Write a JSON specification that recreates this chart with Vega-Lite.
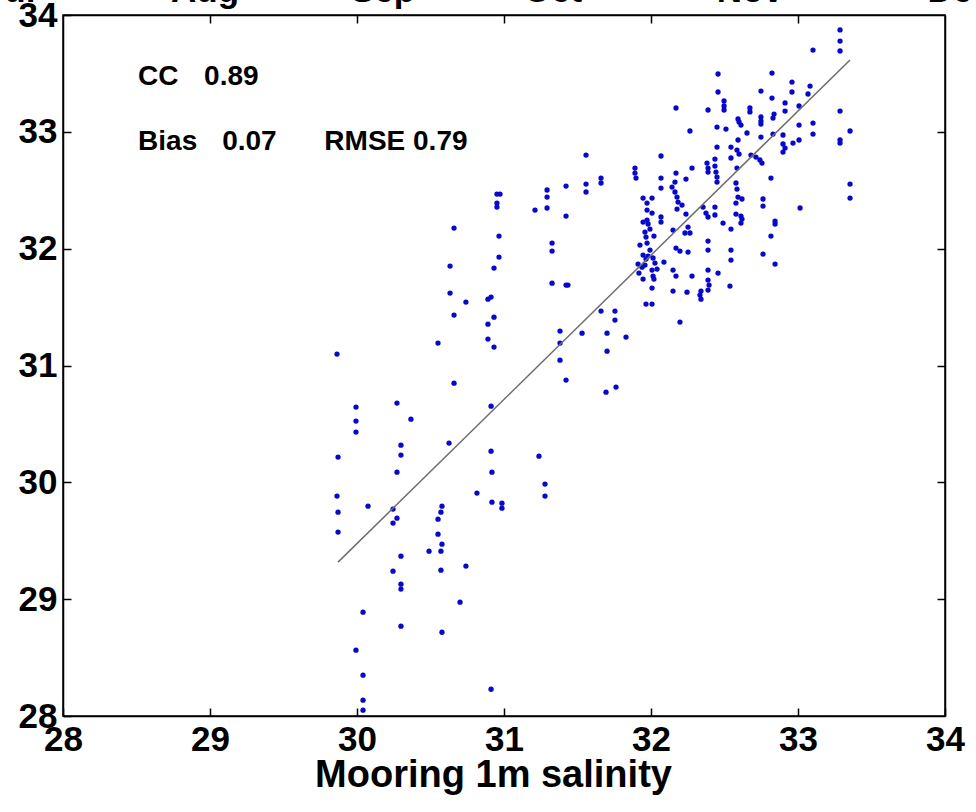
{
"$schema": "https://vega.github.io/schema/vega-lite/v6.json",
"width": 882, "height": 701,
"autosize": {"type": "none"},
"padding": {"left": 63, "top": 15, "right": 31, "bottom": 96},
"background": "white",
"config": {"view": {"stroke": "black", "strokeWidth": 1.5},
  "axis": {"grid": false, "domainColor": "black", "domainWidth": 1.5, "tickColor": "black", "tickWidth": 1.5, "labelColor": "black", "labelFont": "Liberation Sans", "labelFontWeight": "bold", "labelFontSize": 35, "titleColor": "black"}},
"datasets": {
"pts": [
{"obs":29.864,"mod":31.098},{"obs":30.551,"mod":31.192},{"obs":30.891,"mod":31.226},{"obs":30.932,"mod":31.158},{"obs":30.660,"mod":30.849},
{"obs":29.993,"mod":30.644},{"obs":30.272,"mod":30.678},{"obs":29.993,"mod":30.524},{"obs":29.993,"mod":30.430},{"obs":30.367,"mod":30.541},
{"obs":29.871,"mod":30.216},{"obs":30.299,"mod":30.318},{"obs":30.299,"mod":30.233},{"obs":30.272,"mod":30.087},{"obs":30.626,"mod":30.336},
{"obs":30.912,"mod":30.652},{"obs":30.912,"mod":30.267},{"obs":29.864,"mod":29.882},{"obs":29.871,"mod":29.745},{"obs":30.075,"mod":29.796},
{"obs":30.245,"mod":29.771},{"obs":30.272,"mod":29.693},{"obs":30.245,"mod":29.651},{"obs":29.871,"mod":29.574},{"obs":30.816,"mod":29.908},
{"obs":30.578,"mod":29.796},{"obs":30.571,"mod":29.745},{"obs":30.551,"mod":29.685},{"obs":30.551,"mod":29.556},{"obs":30.578,"mod":29.471},
{"obs":30.490,"mod":29.411},{"obs":30.571,"mod":29.411},{"obs":30.299,"mod":29.368},{"obs":30.245,"mod":29.240},{"obs":30.571,"mod":29.248},
{"obs":30.741,"mod":29.283},{"obs":30.299,"mod":29.128},{"obs":30.299,"mod":29.086},{"obs":30.701,"mod":28.974},{"obs":30.041,"mod":28.889},
{"obs":30.299,"mod":28.769},{"obs":30.578,"mod":28.717},{"obs":29.993,"mod":28.563},{"obs":30.041,"mod":28.349},{"obs":30.041,"mod":28.135},
{"obs":30.041,"mod":28.050},{"obs":30.912,"mod":28.229},{"obs":30.918,"mod":30.087},{"obs":31.238,"mod":30.224},{"obs":31.279,"mod":29.985},
{"obs":31.279,"mod":29.882},{"obs":30.918,"mod":29.830},{"obs":30.986,"mod":29.822},{"obs":30.986,"mod":29.779},{"obs":31.422,"mod":30.875},
{"obs":31.694,"mod":30.772},{"obs":31.762,"mod":30.815},{"obs":31.381,"mod":31.295},{"obs":31.381,"mod":31.192},{"obs":31.381,"mod":31.046},
{"obs":31.531,"mod":31.277},{"obs":31.701,"mod":31.277},{"obs":31.701,"mod":31.123},{"obs":31.830,"mod":31.243},{"obs":31.558,"mod":32.801},
{"obs":31.422,"mod":32.536},{"obs":31.558,"mod":32.553},{"obs":31.558,"mod":32.485},{"obs":31.660,"mod":32.604},{"obs":31.660,"mod":32.562},
{"obs":31.293,"mod":32.502},{"obs":31.293,"mod":32.442},{"obs":31.293,"mod":32.348},{"obs":31.211,"mod":32.330},{"obs":31.422,"mod":32.279},
{"obs":30.952,"mod":32.467},{"obs":30.973,"mod":32.467},{"obs":30.952,"mod":32.390},{"obs":30.952,"mod":32.356},{"obs":30.660,"mod":32.176},
{"obs":30.966,"mod":32.108},{"obs":30.966,"mod":31.928},{"obs":30.932,"mod":31.834},{"obs":30.633,"mod":31.851},{"obs":31.327,"mod":32.048},
{"obs":31.327,"mod":31.979},{"obs":31.327,"mod":31.705},{"obs":31.422,"mod":31.688},{"obs":31.435,"mod":31.688},{"obs":30.633,"mod":31.620},
{"obs":30.741,"mod":31.543},{"obs":30.891,"mod":31.568},{"obs":30.912,"mod":31.586},{"obs":30.660,"mod":31.432},{"obs":30.932,"mod":31.414},
{"obs":30.891,"mod":31.354},{"obs":31.660,"mod":31.466},{"obs":31.755,"mod":31.466},{"obs":31.755,"mod":31.389},
{"obs":33.286,"mod":33.872},{"obs":33.286,"mod":33.777},{"obs":33.286,"mod":33.692},{"obs":33.102,"mod":33.700},{"obs":32.456,"mod":33.495},
{"obs":32.823,"mod":33.503},{"obs":32.456,"mod":33.341},{"obs":32.748,"mod":33.349},{"obs":32.959,"mod":33.426},{"obs":32.959,"mod":33.341},
{"obs":33.082,"mod":33.392},{"obs":33.068,"mod":33.324},{"obs":32.823,"mod":33.289},{"obs":32.497,"mod":33.264},{"obs":32.497,"mod":33.221},
{"obs":32.497,"mod":33.187},{"obs":32.388,"mod":33.187},{"obs":32.170,"mod":33.204},{"obs":32.673,"mod":33.204},{"obs":32.673,"mod":33.170},
{"obs":32.912,"mod":33.247},{"obs":32.912,"mod":33.178},{"obs":33.007,"mod":33.221},{"obs":33.286,"mod":33.178},{"obs":32.265,"mod":33.007},
{"obs":32.449,"mod":33.041},{"obs":32.510,"mod":33.024},{"obs":32.592,"mod":33.110},{"obs":32.599,"mod":33.084},{"obs":32.612,"mod":33.058},
{"obs":32.748,"mod":33.127},{"obs":32.748,"mod":33.092},{"obs":32.748,"mod":33.067},{"obs":32.830,"mod":33.118},{"obs":32.837,"mod":33.152},
{"obs":32.748,"mod":32.955},{"obs":32.653,"mod":32.990},{"obs":32.830,"mod":32.981},{"obs":32.898,"mod":32.973},{"obs":32.898,"mod":32.896},
{"obs":32.912,"mod":32.861},{"obs":32.898,"mod":32.827},{"obs":32.966,"mod":32.904},{"obs":33.007,"mod":33.058},{"obs":33.007,"mod":32.930},
{"obs":33.102,"mod":33.075},{"obs":33.102,"mod":32.981},{"obs":33.286,"mod":32.930},{"obs":33.286,"mod":32.904},{"obs":33.354,"mod":33.007},
{"obs":32.068,"mod":32.793},{"obs":32.449,"mod":32.870},{"obs":32.544,"mod":32.870},{"obs":32.585,"mod":32.844},{"obs":32.599,"mod":32.810},
{"obs":32.544,"mod":32.776},{"obs":32.680,"mod":32.801},{"obs":32.714,"mod":32.784},{"obs":32.741,"mod":32.759},{"obs":32.755,"mod":32.733},
{"obs":32.585,"mod":32.690},{"obs":32.435,"mod":32.767},{"obs":31.891,"mod":32.690},{"obs":31.891,"mod":32.647},{"obs":31.898,"mod":32.604},
{"obs":32.068,"mod":32.604},{"obs":32.068,"mod":32.519},{"obs":32.143,"mod":32.527},{"obs":32.163,"mod":32.485},{"obs":32.177,"mod":32.442},
{"obs":32.170,"mod":32.647},{"obs":32.238,"mod":32.596},{"obs":32.279,"mod":32.690},{"obs":32.381,"mod":32.733},{"obs":32.388,"mod":32.690},
{"obs":32.388,"mod":32.656},{"obs":32.435,"mod":32.707},{"obs":32.442,"mod":32.656},{"obs":32.449,"mod":32.613},{"obs":32.449,"mod":32.570},
{"obs":32.816,"mod":32.604},{"obs":33.354,"mod":32.553},{"obs":33.354,"mod":32.433},{"obs":31.946,"mod":32.433},{"obs":32.007,"mod":32.433},
{"obs":32.592,"mod":32.442},{"obs":32.762,"mod":32.425},{"obs":32.578,"mod":32.562},{"obs":32.163,"mod":32.570},{"obs":32.585,"mod":32.510},
{"obs":31.973,"mod":32.390},{"obs":32.184,"mod":32.399},{"obs":32.211,"mod":32.373},{"obs":32.177,"mod":32.339},{"obs":32.238,"mod":32.296},
{"obs":32.007,"mod":32.305},{"obs":31.973,"mod":32.330},{"obs":32.068,"mod":32.271},{"obs":32.068,"mod":32.228},{"obs":31.946,"mod":32.228},
{"obs":31.973,"mod":32.245},{"obs":31.980,"mod":32.211},{"obs":31.959,"mod":32.142},{"obs":31.993,"mod":32.168},{"obs":32.020,"mod":32.108},
{"obs":31.925,"mod":32.031},{"obs":31.973,"mod":32.048},{"obs":31.993,"mod":31.988},{"obs":31.946,"mod":31.945},{"obs":31.966,"mod":31.911},
{"obs":31.980,"mod":31.937},{"obs":32.014,"mod":31.920},{"obs":32.027,"mod":31.877},{"obs":32.041,"mod":31.825},{"obs":32.007,"mod":31.817},
{"obs":32.014,"mod":31.765},{"obs":32.020,"mod":31.740},{"obs":31.918,"mod":31.791},{"obs":31.946,"mod":31.740},{"obs":32.088,"mod":31.885},
{"obs":32.007,"mod":31.663},{"obs":31.966,"mod":31.526},{"obs":32.007,"mod":31.526},{"obs":32.150,"mod":32.159},{"obs":32.170,"mod":32.005},
{"obs":32.197,"mod":31.979},{"obs":32.252,"mod":31.971},{"obs":32.150,"mod":31.817},{"obs":32.170,"mod":31.765},{"obs":32.150,"mod":31.637},
{"obs":32.245,"mod":31.628},{"obs":32.279,"mod":31.765},{"obs":32.197,"mod":31.372},{"obs":32.354,"mod":32.356},{"obs":32.374,"mod":32.305},
{"obs":32.388,"mod":32.271},{"obs":32.435,"mod":32.356},{"obs":32.435,"mod":32.288},{"obs":32.252,"mod":32.185},{"obs":32.231,"mod":32.134},
{"obs":32.265,"mod":32.134},{"obs":32.490,"mod":32.219},{"obs":32.544,"mod":32.168},{"obs":32.388,"mod":32.065},{"obs":32.388,"mod":31.988},
{"obs":32.544,"mod":31.988},{"obs":32.544,"mod":31.902},{"obs":32.388,"mod":31.817},{"obs":32.456,"mod":31.791},{"obs":32.388,"mod":31.731},
{"obs":32.395,"mod":31.688},{"obs":32.388,"mod":31.646},{"obs":32.340,"mod":31.637},{"obs":32.340,"mod":31.568},{"obs":32.537,"mod":31.680},
{"obs":32.619,"mod":32.425},{"obs":32.578,"mod":32.390},{"obs":32.578,"mod":32.296},{"obs":32.612,"mod":32.279},{"obs":32.619,"mod":32.253},
{"obs":32.612,"mod":32.219},{"obs":32.762,"mod":32.365},{"obs":32.844,"mod":32.236},{"obs":32.844,"mod":32.211},{"obs":32.816,"mod":32.108},
{"obs":32.762,"mod":31.954},{"obs":32.844,"mod":31.868},{"obs":33.014,"mod":32.348},{"obs":31.912,"mod":31.868},{"obs":31.939,"mod":31.842},
{"obs":31.959,"mod":31.860},{"obs":32.333,"mod":31.603},{"obs":31.966,"mod":32.099},{"obs":32.592,"mod":32.930}
],
"fit": [{"obs": 29.871, "mod": 29.317}, {"obs": 33.354, "mod": 33.615}],
"notes": [
{"obs": 28.511, "mod": 33.399, "label": "CC"},
{"obs": 28.960, "mod": 33.399, "label": "0.89"},
{"obs": 28.511, "mod": 32.841, "label": "Bias"},
{"obs": 29.083, "mod": 32.841, "label": "0.07"},
{"obs": 29.778, "mod": 32.841, "label": "RMSE 0.79"}
],
"months": [
{"obs": 27.64, "mod": 34.111, "label": "Jul"},
{"obs": 28.966, "mod": 34.111, "label": "Aug"},
{"obs": 30.177, "mod": 34.111, "label": "Sep"},
{"obs": 31.333, "mod": 34.111, "label": "Oct"},
{"obs": 32.673, "mod": 34.111, "label": "Nov"},
{"obs": 34.10, "mod": 34.111, "label": "Dec"}
]
},
"resolve": {"axis": {"x": "independent", "y": "independent"}},
"layer": [
{"data": {"name": "pts"},
 "mark": {"type": "point", "shape": "circle", "filled": true, "size": 28, "color": "#0808cc", "opacity": 1},
 "encoding": {
  "x": {"field": "obs", "type": "quantitative", "scale": {"domain": [28, 34], "nice": false, "zero": false},
    "axis": {"orient": "bottom", "values": [28, 29, 30, 31, 32, 33, 34], "tickSize": -8, "labelPadding": 14, "labelFlush": false, "labelOverlap": false, "title": "Mooring 1m salinity", "titleFont": "Liberation Sans", "titleFontWeight": "bold", "titleFontSize": 38, "titleX": 430, "titleY": 70, "titleAlign": "center", "titleBaseline": "alphabetic"}},
  "y": {"field": "mod", "type": "quantitative", "scale": {"domain": [28, 34], "nice": false, "zero": false},
    "axis": {"orient": "left", "values": [28, 29, 30, 31, 32, 33, 34], "tickSize": -8, "labelPadding": 14, "labelFlush": false, "labelOverlap": false, "title": null}}
 }},
{"data": {"name": "fit"},
 "mark": {"type": "line", "color": "#6e6e6e", "strokeWidth": 1.5},
 "encoding": {
  "x": {"field": "obs", "type": "quantitative", "axis": {"orient": "top", "values": [29, 30, 31, 32, 33], "tickSize": -8, "labels": false, "title": null}},
  "y": {"field": "mod", "type": "quantitative", "axis": {"orient": "right", "values": [29, 30, 31, 32, 33], "tickSize": -8, "labels": false, "title": null}}
 }},
{"data": {"name": "notes"},
 "mark": {"type": "text", "align": "left", "baseline": "alphabetic", "font": "Liberation Sans", "fontWeight": "bold", "fontSize": 28, "color": "black"},
 "encoding": {
  "x": {"field": "obs", "type": "quantitative", "axis": null},
  "y": {"field": "mod", "type": "quantitative", "axis": null},
  "text": {"field": "label"}
 }},
{"data": {"name": "months"},
 "mark": {"type": "text", "align": "center", "baseline": "alphabetic", "font": "Liberation Sans", "fontWeight": "bold", "fontSize": 35, "color": "black"},
 "encoding": {
  "x": {"field": "obs", "type": "quantitative", "axis": null},
  "y": {"field": "mod", "type": "quantitative", "axis": null},
  "text": {"field": "label"}
 }}
]
}
